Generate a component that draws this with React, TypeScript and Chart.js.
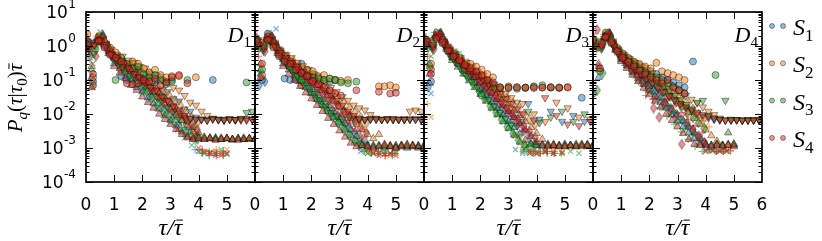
import React, { useEffect, useRef } from 'react';
import { Chart, registerables } from 'chart.js';
Chart.register(...registerables);

// ---------- shared grids & ticks ----------
const X_TICKS = [0, 1, 2, 3, 4, 5, 6];
const Y_DECADES = [1, 0, -1, -2, -3, -4];
const SERIES = ['S1', 'S2', 'S3', 'S4'];
const PANEL_NAMES = ['D1', 'D2', 'D3', 'D4'];

const TD_X = [0.1,0.3,0.5,0.7,0.9,1.1,1.3,1.5,1.7,1.9,2.1,2.3,2.5,2.7,2.9,3.1,3.3,3.5,3.7,3.9,4.1,4.3,4.5,4.7,4.9,5.1,5.3,5.5,5.7,5.9];
const TU_X = [0,0.2,0.4,0.6,0.8,1.0,1.2,1.4,1.6,1.8,2.0,2.2,2.4,2.6,2.8,3.0,3.2,3.4,3.6,3.8,4.0,4.2,4.4,4.6,4.8,5.0,5.2,5.4,5.6,5.8,6.0];
const DM_X = [0.15,0.35,0.55,0.75,0.95,1.15,1.35,1.55,1.75,1.95,2.15,2.35,2.55,2.75,2.95,3.15,3.35,3.55,3.75,3.95];
const XM_X = [0,0.25,0.5,0.75,1.0,1.25,1.5,1.75,2.0,2.25,2.5,2.75,3.0,3.25,3.5,3.75,4.0,4.2,4.4,4.6,4.8,5.0];
const PL_X = [0.125,0.375,0.625,0.875,1.125,1.375,1.625,1.875,2.125,2.375,2.625,2.875,3.125,3.375,3.625,3.875,4.125,4.375,4.625,4.875];

// ---------- D1 ----------
const D1_CIRC_X = [0.05,0.25,0.45,0.65,0.85,1.05,1.25,1.45,1.65,1.85,2.05,2.25,2.45,2.65,2.85,3.05,3.3,3.6,3.9,4.5,5.7];
const D1_CIRC_Y = [
  [1.4,0.09,1.6,1.1,0.75,0.5,0.13,0.1,0.3,0.2,0.14,0.16,0.1,0.12,0.09,0.1,null,null,null,0.1,null],
  [2.2,0.12,1.9,1.3,0.9,0.65,0.2,0.22,0.35,0.3,0.22,0.17,0.2,0.14,0.12,0.13,0.13,null,0.12,null,null],
  [1.3,0.07,1.5,1.0,0.6,0.1,0.45,0.3,0.22,0.25,0.15,0.12,0.14,0.1,0.075,0.09,null,0.1,null,null,0.085],
  [1.1,0.15,1.4,0.9,0.55,0.45,0.35,0.08,0.075,0.08,0.1,0.09,0.11,0.07,0.085,0.12,0.14,0.08,null,null,null],
];
const D1_TDOWN_Y = [
  [0.9,1.3,1.7,1.0,0.6,0.45,0.33,0.3,0.2,0.19,0.12,0.1,0.085,0.05,0.045,0.028,0.024,0.014,0.012,0.008,0.007,0.0068,0.0072,0.007,0.0065,0.007,0.0068,0.007,0.0072,0.007],
  [1.2,1.0,1.9,1.2,0.8,0.55,0.5,0.38,0.33,0.25,0.22,0.15,0.14,0.1,0.085,0.06,0.05,0.035,0.022,0.018,0.012,0.009,0.0075,0.0068,0.007,0.0072,0.0066,0.0074,0.007,0.0069],
  [1.0,0.6,1.4,0.9,0.5,0.35,0.22,0.2,0.12,0.1,0.065,0.05,0.033,0.025,0.016,0.012,0.008,0.0075,0.0072,0.0069,0.0071,0.0066,0.0073,0.0069,0.0067,0.0071,0.0068,0.0072,0.011,0.012],
  [0.8,1.1,1.5,1.1,0.55,0.4,0.25,0.23,0.15,0.12,0.085,0.06,0.05,0.032,0.025,0.017,0.013,0.009,0.0075,0.007,0.0068,0.0065,0.007,0.0067,0.0066,0.0069,0.0068,0.0066,0.0065,0.0068],
];
const D1_TUP_Y = [
  [1.1,0.12,1.6,2.0,0.7,0.3,0.22,0.13,0.1,0.06,0.045,0.03,0.02,0.014,0.009,0.0065,0.0045,0.003,0.0022,0.002,0.0019,0.0018,0.0019,0.002,0.0018,0.0019,0.0018,0.0019,0.0018,0.0019,0.0018],
  [1.5,0.25,1.3,1.7,0.9,0.45,0.35,0.22,0.18,0.12,0.09,0.065,0.045,0.03,0.02,0.014,0.009,0.0065,0.0045,0.003,0.0022,0.002,0.0019,0.0018,0.002,0.0019,0.0018,0.0019,0.002,0.0019,0.0018],
  [0.9,0.2,1.7,2.2,0.95,0.52,0.4,0.3,0.2,0.16,0.11,0.085,0.06,0.04,0.03,0.02,0.014,0.009,0.006,0.004,0.0028,0.0021,0.002,0.0019,0.0018,0.0019,0.0017,0.0019,0.0018,0.0018,0.0019],
  [1.3,0.06,1.4,1.9,0.6,0.25,0.16,0.11,0.07,0.05,0.032,0.022,0.015,0.01,0.007,0.005,0.0035,0.0025,0.002,0.0018,0.0019,0.0018,0.0019,0.0017,0.0018,0.0019,0.0018,0.0017,0.0018,0.0019,0.0018],
];
const D1_DIAM_Y = [
  [0.5,1.2,1.5,0.9,0.5,0.32,0.25,0.15,0.12,0.08,0.06,0.04,0.03,0.02,0.014,0.01,0.007,0.005,0.0035,0.0022],
  [0.9,1.0,1.8,1.1,0.65,0.5,0.35,0.28,0.2,0.16,0.11,0.09,0.06,0.05,0.035,0.025,0.018,0.012,0.008,0.0055],
  [0.7,0.8,1.6,1.0,0.45,0.3,0.2,0.14,0.09,0.065,0.045,0.03,0.02,0.013,0.009,0.006,0.004,0.003,0.0022,0.0018],
  [1.2,0.5,1.3,0.8,0.55,0.4,0.3,0.2,0.16,0.1,0.085,0.055,0.045,0.03,0.022,0.015,0.01,0.0075,0.005,0.0035],
];
const D1_XM_Y = [
  [1.8,0.3,2.6,1.0,0.4,0.25,0.13,0.09,0.05,0.035,0.02,0.013,0.008,0.005,0.003,0.0018,0.0008,0.0007,0.00075,0.0006,0.0007,0.00065],
  [2.5,0.06,2.0,1.2,0.55,0.35,0.22,0.15,0.1,0.065,0.04,0.028,0.017,0.011,0.0065,0.004,0.0025,0.00075,0.0007,0.0008,0.0007,0.0009],
  [1.5,0.5,2.2,0.9,0.35,0.2,0.11,0.07,0.04,0.025,0.015,0.009,0.0055,0.0035,0.002,0.0012,0.0008,0.00072,0.0007,0.00068,0.0009,0.0007],
  [2.0,0.08,1.8,1.1,0.5,0.3,0.18,0.12,0.075,0.05,0.03,0.02,0.012,0.0035,0.0025,0.002,0.001,0.0008,0.0007,0.0007,0.0006,0.0007],
];
const D1_PLUS_Y = [
  [1.0,1.5,1.8,0.7,0.35,0.22,0.15,0.1,0.06,0.04,0.025,0.016,0.01,0.006,0.0035,0.0009,0.0007,0.0006,0.0007,0.0008],
  [0.4,2.0,1.3,0.9,0.5,0.35,0.25,0.16,0.11,0.07,0.05,0.03,0.02,0.012,0.007,0.004,0.0008,0.0007,0.0009,0.0007],
  [1.2,1.1,1.6,0.6,0.3,0.18,0.12,0.075,0.045,0.03,0.018,0.011,0.007,0.004,0.0025,0.0015,0.0007,0.0008,0.0007,0.0006],
  [0.7,1.7,1.4,0.8,0.45,0.3,0.2,0.13,0.085,0.055,0.035,0.022,0.014,0.009,0.005,0.003,0.0009,0.0007,0.0006,0.0007],
];

// ---------- D2 ----------
const D2_CIRC_X = [0.05,0.25,0.45,0.65,0.85,1.05,1.25,1.45,1.65,1.85,2.05,2.25,2.45,2.65,2.85,3.05,3.3,3.6,4.4,4.6,4.8,5.0];
const D2_CIRC_Y = [
  [1.7,0.1,2.3,1.3,0.6,0.11,0.1,0.1,0.3,0.2,0.15,0.12,0.1,0.09,0.1,null,null,null,null,null,null,null],
  [1.3,0.14,1.9,1.1,0.7,0.5,0.35,0.25,0.07,0.2,0.18,0.13,0.14,0.11,0.1,0.095,0.1,null,0.065,0.065,0.07,0.06],
  [1.1,0.2,1.6,1.0,0.55,0.4,0.25,0.12,0.1,0.14,0.12,0.11,0.1,0.11,0.1,0.085,0.08,0.09,null,null,null,null],
  [1.4,0.3,1.5,0.9,0.5,0.35,0.3,0.2,0.16,0.13,0.09,0.075,0.06,0.05,0.04,0.035,null,0.05,0.045,null,0.04,0.042],
];
const D2_TDOWN_Y = [
  [1.4,0.8,1.8,1.0,0.6,0.42,0.3,0.2,0.16,0.1,0.08,0.055,0.04,0.028,0.02,0.013,0.01,0.0075,0.007,0.0068,0.007,0.0072,0.0069,0.007,0.0071,0.0068,0.007,0.0069,0.0072,0.007],
  [1.2,1.0,1.9,1.2,0.75,0.55,0.45,0.33,0.26,0.2,0.15,0.11,0.085,0.06,0.045,0.032,0.025,0.018,0.015,0.013,0.0095,0.0075,0.007,0.0073,0.0069,0.007,0.0072,0.012,0.013,0.012],
  [1.5,0.7,1.6,1.1,0.5,0.33,0.2,0.14,0.09,0.06,0.04,0.026,0.017,0.011,0.0085,0.0073,0.0069,0.0071,0.007,0.0068,0.0072,0.007,0.0068,0.0071,0.0069,0.007,0.0068,0.0071,0.007,0.0069],
  [1.1,0.9,1.5,1.0,0.65,0.45,0.33,0.25,0.18,0.13,0.1,0.07,0.05,0.035,0.025,0.018,0.012,0.009,0.0075,0.007,0.0071,0.007,0.0068,0.007,0.0072,0.0069,0.0068,0.007,0.0069,0.0068],
];
const D2_TUP_Y = [
  [1.4,0.15,1.5,1.9,0.7,0.3,0.2,0.13,0.09,0.06,0.04,0.027,0.018,0.012,0.008,0.0055,0.0035,0.0024,0.0016,0.0012,0.0011,0.0012,0.0011,0.001,0.0011,0.0012,0.0011,0.001,0.0011,0.0012,0.0011],
  [1.2,0.3,1.8,1.6,1.0,0.5,0.38,0.27,0.2,0.14,0.1,0.07,0.05,0.035,0.024,0.016,0.011,0.0075,0.005,0.0035,0.0025,0.0019,0.0025,0.0013,0.0012,0.0011,0.0012,0.0013,0.0012,0.0011,0.0012],
  [1.6,0.2,1.3,1.8,0.85,0.4,0.28,0.19,0.13,0.09,0.06,0.04,0.027,0.018,0.012,0.008,0.0052,0.0034,0.0022,0.0014,0.0012,0.0011,0.0012,0.0011,0.0011,0.001,0.0012,0.0011,0.0012,0.0011,0.001],
  [1.0,0.12,1.6,2.0,0.6,0.25,0.15,0.1,0.065,0.042,0.028,0.018,0.012,0.0075,0.005,0.0032,0.0021,0.0014,0.0011,0.0012,0.0011,0.001,0.0011,0.0012,0.0011,0.001,0.0011,0.0012,0.0011,0.001,0.0011],
];
const D2_DIAM_Y = [
  [0.07,0.09,1.5,1.0,0.5,0.3,0.2,0.13,0.09,0.06,0.04,0.026,0.02,0.013,0.009,0.006,0.004,0.0028,0.002,0.0014],
  [1.1,0.9,1.7,1.1,0.7,0.5,0.37,0.27,0.2,0.15,0.11,0.08,0.06,0.042,0.03,0.022,0.015,0.011,0.008,0.0055],
  [0.9,1.0,1.4,0.95,0.45,0.28,0.18,0.11,0.075,0.048,0.03,0.02,0.013,0.0085,0.0055,0.0036,0.0024,0.0016,0.0013,0.0011],
  [1.3,0.7,1.6,0.9,0.6,0.4,0.3,0.21,0.15,0.1,0.075,0.052,0.037,0.026,0.018,0.012,0.0085,0.006,0.004,0.0028],
];
const D2_XM_Y = [
  [2.0,0.8,2.5,3.2,0.45,0.25,0.14,0.09,0.05,0.03,0.018,0.011,0.007,0.0045,0.0035,0.0008,0.0007,0.00075,0.0007,0.00068,0.0007,0.0008],
  [1.8,1.2,2.0,1.3,0.55,0.35,0.24,0.16,0.11,0.075,0.05,0.033,0.022,0.014,0.009,0.0055,0.0008,0.0007,0.00078,0.0007,0.0006,0.0007],
  [1.5,0.9,1.7,1.1,0.4,0.22,0.12,0.07,0.04,0.024,0.014,0.008,0.0045,0.0027,0.0016,0.001,0.0007,0.00068,0.0007,0.0008,0.0007,0.00072],
  [2.4,1.0,2.2,1.2,0.5,0.3,0.19,0.12,0.075,0.046,0.028,0.017,0.01,0.006,0.0035,0.0021,0.0009,0.0007,0.0006,0.00065,0.0007,0.0006],
];
const D2_PLUS_Y = [
  [1.6,1.2,1.9,0.6,0.3,0.18,0.11,0.065,0.04,0.025,0.015,0.009,0.0055,0.005,0.0027,0.0008,0.0007,0.0008,0.0007,0.0006],
  [0.9,1.8,1.4,0.8,0.45,0.3,0.2,0.13,0.085,0.055,0.035,0.022,0.014,0.009,0.0055,0.0035,0.0008,0.0007,0.0006,0.0007],
  [1.3,1.0,1.6,0.55,0.28,0.16,0.09,0.05,0.03,0.017,0.01,0.006,0.0035,0.002,0.0012,0.0008,0.0007,0.0008,0.0007,0.0007],
  [0.5,1.5,1.2,0.7,0.38,0.24,0.15,0.095,0.06,0.038,0.024,0.015,0.009,0.0055,0.0032,0.002,0.0009,0.0007,0.0006,0.0007],
];

// ---------- D3 ----------
const D3_CIRC_X = [0.05,0.25,0.45,0.65,0.85,1.05,1.25,1.45,1.65,1.85,2.05,2.25,2.45,2.7,3.0,3.3,3.6,3.9,4.2,4.5,4.8,5.1,5.6];
const D3_CIRC_Y = [
  [1.2,0.09,2.0,1.4,0.8,0.5,0.35,0.25,0.19,0.15,0.12,0.09,0.075,null,null,null,null,null,null,null,null,null,0.03],
  [1.6,0.3,2.4,1.5,0.9,0.6,0.45,0.16,0.3,0.25,0.2,0.15,0.12,0.06,0.065,0.06,0.058,0.062,0.06,0.06,0.058,0.062,null],
  [1.4,0.2,1.8,1.2,0.7,0.45,0.3,0.22,0.17,0.13,0.035,0.08,0.06,0.058,0.06,0.055,0.06,0.065,0.07,0.06,0.06,null,null],
  [1.1,0.15,1.6,1.3,0.75,0.5,0.38,0.28,0.22,0.18,0.14,0.1,0.085,0.062,0.058,0.062,0.06,0.058,0.06,0.062,0.06,0.06,null],
];
const D3_TDOWN_Y = [
  [1.3,0.9,2.0,1.2,0.65,0.42,0.3,0.2,0.15,0.1,0.07,0.05,0.035,0.024,0.016,0.011,0.008,0.006,0.02,null,0.007,null,0.012,null,0.006,null,0.009,null,0.006,null],
  [1.5,1.1,2.2,1.3,0.8,0.6,0.45,0.33,0.25,0.18,0.14,0.1,0.075,0.055,0.04,0.03,0.022,0.02,null,0.01,null,0.006,null,0.022,null,0.015,null,0.008,null,0.007],
  [1.2,0.8,1.8,1.1,0.55,0.35,0.22,0.14,0.09,0.06,0.04,0.026,0.017,0.011,0.0075,0.005,0.0045,null,0.012,null,0.0055,null,0.008,null,0.012,null,0.006,null,0.01,null],
  [1.4,1.0,1.9,1.15,0.72,0.5,0.36,0.26,0.19,0.14,0.1,0.075,0.055,0.04,0.028,0.02,0.014,0.01,null,0.0065,null,0.03,null,0.009,null,0.005,null,0.0045,null,0.006],
];
const D3_TUP_Y = [
  [1.3,0.08,1.9,2.3,0.9,0.45,0.3,0.2,0.13,0.085,0.055,0.036,0.023,0.015,0.0095,0.006,0.004,0.0026,0.0017,0.0013,0.0012,0.0013,0.0012,0.0011,0.0012,0.0013,0.0012,0.0011,0.0012,0.0013,0.0012],
  [1.5,0.25,2.1,2.0,1.2,0.65,0.45,0.33,0.24,0.17,0.12,0.085,0.06,0.042,0.029,0.02,0.013,0.009,0.006,0.004,0.0027,0.0018,0.0012,0.0013,0.0012,0.0011,0.0012,0.0013,0.0012,0.0011,0.0012],
  [1.2,0.3,1.7,2.5,0.8,0.38,0.24,0.15,0.095,0.06,0.038,0.024,0.015,0.0095,0.006,0.0038,0.0024,0.0015,0.0012,0.0013,0.0012,0.0011,0.0013,0.0012,0.0011,0.0012,0.0011,0.0012,0.0013,0.0012,0.0011],
  [1.4,0.15,2.0,2.2,1.0,0.55,0.37,0.26,0.18,0.12,0.085,0.058,0.04,0.027,0.018,0.012,0.008,0.0052,0.0034,0.0022,0.0015,0.0012,0.0011,0.0012,0.0011,0.0011,0.0012,0.0011,0.0011,0.0012,0.0011],
];
const D3_DIAM_Y = [
  [0.06,1.0,2.0,1.3,0.65,0.4,0.27,0.18,0.12,0.08,0.055,0.037,0.025,0.016,0.011,0.0075,0.005,0.0033,0.0022,0.0014],
  [1.2,1.3,2.2,1.4,0.85,0.6,0.42,0.3,0.22,0.16,0.12,0.085,0.06,0.043,0.03,0.021,0.015,0.01,0.007,0.005],
  [0.9,1.1,1.8,1.2,0.55,0.33,0.2,0.12,0.075,0.046,0.028,0.017,0.011,0.0068,0.0042,0.0027,0.0017,0.0012,0.0011,0.0012],
  [1.4,0.8,2.1,1.25,0.75,0.5,0.34,0.23,0.16,0.11,0.075,0.05,0.034,0.023,0.015,0.01,0.0068,0.0045,0.003,0.002],
];
const D3_XM_X = [0,0.25,0.5,0.75,1.0,1.25,1.5,1.75,2.0,2.25,2.5,2.75,3.0,3.25,3.5,3.75,4.0,4.3,4.6,4.9,5.2,5.5];
const D3_XM_Y = [
  [1.6,0.04,2.8,1.3,0.5,0.28,0.16,0.09,0.05,0.03,0.018,0.01,0.006,0.0009,0.0007,0.0008,0.0007,0.0008,0.0007,null,null,null],
  [1.8,0.008,2.0,1.4,0.65,0.4,0.26,0.17,0.11,0.07,0.045,0.028,0.016,0.0022,0.0009,0.0008,0.0007,0.0009,0.0008,0.0007,null,null],
  [1.4,0.5,1.9,1.2,0.45,0.6,0.15,0.085,0.048,0.027,0.015,0.0085,0.0048,0.0027,0.0008,0.0007,0.0008,0.00075,0.0007,0.0007,0.0008,0.0007],
  [2.0,0.2,2.3,1.1,0.55,0.33,0.2,0.12,0.075,0.045,0.028,0.017,0.01,0.006,0.0035,0.0007,0.00068,0.0008,0.0007,0.00075,null,null],
];
const D3_PLUS_Y = [
  [0.3,2.5,1.9,0.7,0.36,0.2,0.12,0.07,0.04,0.024,0.014,0.008,0.0045,0.0025,0.0008,0.0007,0.0008,0.0007,null,null],
  [0.02,2.0,1.6,0.9,0.5,0.32,0.21,0.14,0.09,0.058,0.037,0.023,0.014,0.0022,0.0018,0.0008,0.0007,0.0007,0.0008,null],
  [0.9,1.6,1.4,0.6,0.65,0.17,0.1,0.058,0.033,0.019,0.011,0.0063,0.0036,0.002,0.0009,0.0007,0.0007,0.0008,0.0007,0.0007],
  [0.5,1.8,1.7,0.8,0.42,0.26,0.16,0.1,0.062,0.038,0.023,0.014,0.0085,0.005,0.003,0.0008,0.0007,0.0008,0.0007,null],
];

// ---------- D4 ----------
const D4_CIRC_X = [0,0.25,0.45,0.65,0.85,1.05,1.25,1.45,1.65,1.85,2.05,2.25,2.45,2.65,2.85,3.05,3.25,3.55,4.35];
const D4_CIRC_Y = [
  [0.04,0.9,2.2,1.4,0.8,0.55,0.42,0.33,0.27,0.22,0.18,0.15,0.12,0.1,0.085,0.07,0.06,0.35,null],
  [1.6,1.3,2.5,1.5,0.9,0.6,0.45,0.35,0.3,0.25,0.22,0.32,0.18,0.16,0.14,0.12,0.1,null,null],
  [1.3,0.18,2.0,1.2,0.75,0.5,0.36,0.28,0.21,0.17,0.13,0.12,0.1,0.08,0.065,0.05,0.04,null,0.14],
  [1.5,0.22,1.8,1.3,0.7,0.45,0.34,0.25,0.19,0.15,0.12,0.1,0.08,0.1,0.06,0.05,0.04,null,null],
];
const D4_TDOWN_Y = [
  [1.1,0.9,1.9,1.1,0.6,0.4,0.28,0.2,0.14,0.1,0.075,0.055,0.042,0.032,0.025,0.019,0.015,0.012,0.01,0.0085,0.0075,0.0068,0.0066,0.0065,0.0068,0.0066,0.0065,0.0067,0.0066,0.0065],
  [1.3,1.1,2.1,1.3,0.8,0.55,0.42,0.32,0.25,0.2,0.16,0.12,0.095,0.075,0.058,0.045,0.035,0.027,0.021,0.016,0.012,0.0095,0.0075,0.0067,0.0066,0.0068,0.0065,0.0066,0.0068,0.0066],
  [1.2,0.8,1.8,1.15,0.7,0.46,0.34,0.26,0.2,0.15,0.11,0.085,0.063,0.047,0.035,0.026,0.019,0.014,0.022,0.025,0.009,0.0075,0.007,0.025,0.007,0.0068,0.0066,0.0067,0.0065,0.0066],
  [1.0,1.0,2.0,1.2,0.6,0.4,0.28,0.2,0.15,0.11,0.08,0.06,0.045,0.034,0.026,0.02,0.016,0.013,0.011,0.0095,0.0085,0.0075,0.0068,0.0066,0.0065,0.0067,0.0066,0.0065,0.0066,0.0067],
];
const D4_TUP_X = [0,0.2,0.4,0.6,0.8,1.0,1.2,1.4,1.6,1.8,2.0,2.2,2.4,2.6,2.8,3.0,3.2,3.4,3.6,3.8,4.0,4.2,4.4,4.6,4.8,5.0];
const D4_TUP_Y = [
  [1.1,0.12,1.7,2.4,0.8,0.4,0.26,0.17,0.11,0.075,0.05,0.033,0.022,0.015,0.0095,0.0062,0.0042,0.0028,0.0019,0.0014,0.0013,0.0012,0.0013,0.0012,0.0013,0.0012],
  [1.4,0.3,1.9,2.0,1.05,0.55,0.4,0.3,0.22,0.16,0.12,0.085,0.062,0.045,0.032,0.023,0.016,0.011,0.0075,0.005,0.0034,0.0023,0.0016,0.0012,0.0012,0.0013],
  [1.2,0.2,1.6,2.3,0.9,0.45,0.3,0.2,0.14,0.095,0.065,0.045,0.03,0.02,0.014,0.0095,0.0063,0.0042,0.0028,0.0019,0.0013,0.0012,0.0013,0.0012,0.0028,0.0013],
  [1.0,0.25,1.8,2.1,0.75,0.35,0.22,0.14,0.09,0.058,0.037,0.024,0.016,0.01,0.0065,0.0042,0.0027,0.0018,0.0013,0.0012,0.0012,0.0011,0.0012,0.0011,0.0012,0.0011],
];
const D4_DIAM_Y = [
  [1.0,1.3,2.0,1.1,0.55,0.36,0.24,0.16,0.11,0.075,0.05,0.034,0.023,0.015,0.01,0.0068,0.0045,0.003,0.002,0.0014],
  [1.3,1.1,2.2,1.2,0.75,0.52,0.38,0.28,0.21,0.16,0.12,0.09,0.068,0.05,0.037,0.027,0.02,0.014,0.01,0.0075],
  [0.05,0.16,1.8,1.0,0.62,0.42,0.3,0.22,0.16,0.12,0.085,0.062,0.045,0.032,0.023,0.016,0.011,0.0078,0.0055,0.0038],
  [3.0,1.2,2.4,1.05,0.5,0.32,0.2,0.13,0.085,0.055,0.015,0.008,0.02,0.013,0.0085,0.0013,0.0055,0.0035,0.0023,0.0015],
];
const D4_XM_X = [0,0.25,0.5,0.75,1.0,1.25,1.5,1.75,2.0,2.25,2.5,2.75,3.0,3.25,3.5,3.75,4.0,4.25,4.5,4.75];
const D4_XM_Y = [
  [1.6,0.9,2.5,1.4,0.5,0.28,0.16,0.1,0.06,0.038,0.024,0.015,0.0095,0.006,0.0038,0.0022,0.0009,0.0008,0.00085,0.0008],
  [1.9,1.2,2.2,1.3,0.6,0.38,0.25,0.17,0.12,0.08,0.055,0.038,0.026,0.017,0.011,0.007,0.0045,0.00085,0.0008,0.0009],
  [1.4,0.8,2.7,1.2,0.45,0.24,0.13,0.075,0.042,0.025,0.015,0.009,0.0055,0.0033,0.002,0.0012,0.0008,0.0009,0.0008,0.00085],
  [2.1,1.0,2.0,1.1,0.52,0.3,0.2,0.13,0.09,0.03,0.025,0.03,0.018,0.0095,0.004,0.0019,0.0008,0.00085,0.0008,0.0008],
];
const D4_PLUS_Y = [
  [1.2,1.6,1.9,0.65,0.34,0.2,0.12,0.075,0.046,0.029,0.018,0.011,0.007,0.0045,0.0028,0.0018,0.0009,0.0008,0.0009,null],
  [0.8,2.2,1.5,0.85,0.5,0.33,0.23,0.16,0.11,0.075,0.05,0.034,0.023,0.015,0.01,0.0065,0.0042,0.0009,0.0008,0.0008],
  [1.5,1.3,1.7,0.55,0.27,0.15,0.085,0.048,0.027,0.015,0.0085,0.005,0.003,0.0018,0.0011,0.0008,0.0009,0.0008,0.0008,null],
  [0.9,1.9,1.3,0.75,0.4,0.25,0.16,0.035,0.028,0.045,0.028,0.018,0.011,0.007,0.0045,0.0028,0.0009,0.0008,0.0008,0.00085],
];

// ---------- assembly tables ----------
type Kind = 'circ' | 'tdown' | 'tup' | 'diam' | 'xm' | 'plus';
type SetDef = { kind: Kind; x: number[]; y: (number | null)[][] };
const PANELS: SetDef[][] = [
  [
    { kind: 'plus', x: PL_X, y: D1_PLUS_Y },
    { kind: 'xm', x: XM_X, y: D1_XM_Y },
    { kind: 'tup', x: TU_X, y: D1_TUP_Y },
    { kind: 'diam', x: DM_X, y: D1_DIAM_Y },
    { kind: 'tdown', x: TD_X, y: D1_TDOWN_Y },
    { kind: 'circ', x: D1_CIRC_X, y: D1_CIRC_Y },
  ],
  [
    { kind: 'plus', x: PL_X, y: D2_PLUS_Y },
    { kind: 'xm', x: XM_X, y: D2_XM_Y },
    { kind: 'tup', x: TU_X, y: D2_TUP_Y },
    { kind: 'diam', x: DM_X, y: D2_DIAM_Y },
    { kind: 'tdown', x: TD_X, y: D2_TDOWN_Y },
    { kind: 'circ', x: D2_CIRC_X, y: D2_CIRC_Y },
  ],
  [
    { kind: 'plus', x: PL_X, y: D3_PLUS_Y },
    { kind: 'xm', x: D3_XM_X, y: D3_XM_Y },
    { kind: 'tup', x: TU_X, y: D3_TUP_Y },
    { kind: 'diam', x: DM_X, y: D3_DIAM_Y },
    { kind: 'tdown', x: TD_X, y: D3_TDOWN_Y },
    { kind: 'circ', x: D3_CIRC_X, y: D3_CIRC_Y },
  ],
  [
    { kind: 'plus', x: PL_X, y: D4_PLUS_Y },
    { kind: 'xm', x: D4_XM_X, y: D4_XM_Y },
    { kind: 'tup', x: D4_TUP_X, y: D4_TUP_Y },
    { kind: 'diam', x: DM_X, y: D4_DIAM_Y },
    { kind: 'tdown', x: TD_X, y: D4_TDOWN_Y },
    { kind: 'circ', x: D4_CIRC_X, y: D4_CIRC_Y },
  ],
];

// ---------- style ----------
const W = 822;
const H = 241;
const EDGES = [86, 255, 424, 593, 762];
const PLOT_TOP = 12;
const X_AXIS_H = 59;
const COLORS = ['31,119,180', '255,127,14', '44,160,44', '214,39,40'];
const EDGE = 'rgba(0,0,0,0.5)';
const MATH_FONT = '"Liberation Serif", "DejaVu Serif", serif';
const TICK_FONT = '"DejaVu Sans", sans-serif';

function thinDiamond(col: string): HTMLCanvasElement {
  const c = document.createElement('canvas');
  c.width = 8;
  c.height = 11;
  const g = c.getContext('2d')!;
  g.beginPath();
  g.moveTo(4, 0.6);
  g.lineTo(7.2, 5.5);
  g.lineTo(4, 10.4);
  g.lineTo(0.8, 5.5);
  g.closePath();
  g.fillStyle = `rgba(${col},0.5)`;
  g.fill();
  g.strokeStyle = EDGE;
  g.lineWidth = 0.8;
  g.stroke();
  return c;
}

function makeDataset(kind: Kind, xs: number[], ys: (number | null)[], s: number, order: number) {
  const col = COLORS[s];
  const data = xs
    .map((x, i) => ({ x, y: ys[i] }))
    .filter((p) => p.y != null && p.x != null) as { x: number; y: number }[];
  const base: any = {
    label: `${SERIES[s]}-${kind}`,
    data,
    showLine: false,
    clip: 0,
    order,
    pointBackgroundColor: `rgba(${col},0.5)`,
    pointBorderColor: EDGE,
    pointBorderWidth: 0.8,
    pointRotation: 0,
  };
  switch (kind) {
    case 'circ':
      return { ...base, pointStyle: 'circle', pointRadius: 3.5 };
    case 'tdown':
      return { ...base, pointStyle: 'triangle', pointRotation: 180, pointRadius: 4.3 };
    case 'tup':
      return { ...base, pointStyle: 'triangle', pointRadius: 4.3 };
    case 'diam':
      return { ...base, pointStyle: thinDiamond(col), pointRadius: 4 };
    case 'plus':
      return { ...base, pointStyle: 'cross', pointRadius: 3.6, pointBorderColor: `rgba(${col},0.6)`, pointBorderWidth: 1.2 };
    default:
      return { ...base, pointStyle: 'crossRot', pointRadius: 3.6, pointBorderColor: `rgba(${col},0.6)`, pointBorderWidth: 1.2 };
  }
}

type Seg = { t: string; sub?: boolean; sup?: boolean; up?: boolean; bar?: boolean };
function drawMath(ctx: CanvasRenderingContext2D, segs: Seg[], x: number, y: number, size: number, align: 'left' | 'center' | 'right') {
  const small = Math.round(size * 0.7);
  const fontOf = (s: Seg) => `${s.up ? '' : 'italic '}${s.sub || s.sup ? small : size}px ${MATH_FONT}`;
  const widths = segs.map((s) => {
    ctx.font = fontOf(s);
    return ctx.measureText(s.t).width;
  });
  const total = widths.reduce((a, b) => a + b, 0);
  let cx = align === 'left' ? x : align === 'center' ? x - total / 2 : x - total;
  ctx.textAlign = 'left';
  ctx.textBaseline = 'alphabetic';
  segs.forEach((s, i) => {
    ctx.font = fontOf(s);
    const dy = s.sub ? size * 0.24 : s.sup ? -size * 0.42 : 0;
    ctx.fillText(s.t, cx, y + dy);
    if (s.bar) {
      ctx.save();
      ctx.lineWidth = 1;
      ctx.strokeStyle = '#000';
      ctx.beginPath();
      ctx.moveTo(cx + widths[i] * 0.3, y - size * 0.62);
      ctx.lineTo(cx + widths[i] * 1.05, y - size * 0.62);
      ctx.stroke();
      ctx.restore();
    }
    cx += widths[i];
  });
}

function framePlugin(p: number) {
  return {
    id: 'frame' + p,
    afterDraw(chart: any) {
      const { ctx, chartArea } = chart;
      const { left, right, top, bottom } = chartArea;
      const xs = chart.scales.x;
      const ys = chart.scales.y;
      ctx.save();
      ctx.strokeStyle = '#000';
      ctx.fillStyle = '#000';
      ctx.lineWidth = 1;
      ctx.beginPath();
      for (const v of X_TICKS) {
        if (v === 0 || v === 6) continue;
        const px = Math.round(xs.getPixelForValue(v)) + 0.5;
        ctx.moveTo(px, bottom);
        ctx.lineTo(px, bottom - 7);
        ctx.moveTo(px, top);
        ctx.lineTo(px, top + 7);
      }
      for (const d of Y_DECADES) {
        const py = Math.round(ys.getPixelForValue(Math.pow(10, d))) + 0.5;
        ctx.moveTo(left, py);
        ctx.lineTo(left + 7, py);
        ctx.moveTo(right, py);
        ctx.lineTo(right - 7, py);
        if (d < 1) {
          for (let m = 2; m <= 9; m++) {
            const pm = Math.round(ys.getPixelForValue(m * Math.pow(10, d))) + 0.5;
            ctx.moveTo(left, pm);
            ctx.lineTo(left + 3.5, pm);
            ctx.moveTo(right, pm);
            ctx.lineTo(right - 3.5, pm);
          }
        }
      }
      ctx.stroke();
      ctx.lineWidth = 1.7;
      ctx.strokeRect(left, top, right - left, bottom - top);

      // panel label D_i
      drawMath(ctx, [{ t: 'D' }, { t: PANEL_NAMES[p].slice(1), sub: true, up: true }], right - 4, top + 30, 22, 'right');

      // x title under each panel
      drawMath(ctx, [{ t: 'τ' }, { t: '/' }, { t: 'τ', bar: true }], (left + right) / 2, 235, 24, 'center');

      if (p === 0) {
        for (const d of Y_DECADES) {
          const py = ys.getPixelForValue(Math.pow(10, d));
          const exp = String(d);
          ctx.font = `12px ${TICK_FONT}`;
          const ew = ctx.measureText(exp).width;
          const xr = left - 10;
          ctx.textAlign = 'left';
          ctx.textBaseline = 'alphabetic';
          ctx.fillText(exp, xr - ew, py - 4);
          ctx.font = `17px ${TICK_FONT}`;
          ctx.textAlign = 'right';
          ctx.fillText('10', xr - ew - 0.5, py + 5.5);
        }
        ctx.save();
        ctx.translate(22, (top + bottom) / 2 + 1);
        ctx.rotate(-Math.PI / 2);
        drawMath(
          ctx,
          [
            { t: 'P' },
            { t: 'q', sub: true },
            { t: '(', up: true },
            { t: 'τ' },
            { t: '|', up: true },
            { t: 'τ' },
            { t: '0', sub: true, up: true },
            { t: ')', up: true },
            { t: 'τ', bar: true },
          ],
          0,
          0,
          21,
          'center'
        );
        ctx.restore();
      }

      if (p === 3) {
        SERIES.forEach((name, k) => {
          const cy = top + 14 + k * 37.3;
          for (const dx of [10, 21]) {
            ctx.beginPath();
            ctx.arc(right + dx, cy, 2.5, 0, Math.PI * 2);
            ctx.fillStyle = `rgba(${COLORS[k]},0.5)`;
            ctx.fill();
            ctx.strokeStyle = EDGE;
            ctx.lineWidth = 0.8;
            ctx.stroke();
          }
          ctx.fillStyle = '#000';
          drawMath(ctx, [{ t: name[0] }, { t: name.slice(1), sub: true, up: true }], right + 31, cy + 9, 24, 'left');
        });
      }
      ctx.restore();
    },
  };
}

function makeConfig(p: number): any {
  const datasets: any[] = [];
  let order = 0;
  for (let s = 0; s < 4; s++) {
    for (const def of PANELS[p]) {
      datasets.push(makeDataset(def.kind, def.x, def.y[s], s, -order));
      order++;
    }
  }
  return {
    type: 'scatter',
    data: { datasets },
    options: {
      animation: false,
      responsive: false,
      devicePixelRatio: 1,
      events: [],
      layout: { padding: { left: EDGES[p], right: W - EDGES[p + 1], top: PLOT_TOP, bottom: 0 } },
      plugins: { legend: { display: false }, tooltip: { enabled: false } },
      scales: {
        x: {
          type: 'linear',
          min: 0,
          max: 6,
          grid: { display: false },
          border: { display: false },
          afterFit: (scale: any) => {
            scale.height = X_AXIS_H;
          },
          afterBuildTicks: (scale: any) => {
            scale.ticks = X_TICKS.map((v) => ({ value: v }));
          },
          ticks: {
            autoSkip: false,
            maxRotation: 0,
            padding: 5,
            color: '#000',
            font: { family: TICK_FONT, size: 17 },
            callback: (v: any) => (p < 3 && Number(v) === 6 ? '' : String(v)),
          },
        },
        y: { type: 'logarithmic', min: 1e-4, max: 10, display: false },
      },
    },
    plugins: [framePlugin(p)],
  };
}

export default function App() {
  const canvases = useRef<(HTMLCanvasElement | null)[]>([]);
  useEffect(() => {
    const charts = [0, 1, 2, 3].map((p) => new Chart(canvases.current[p] as HTMLCanvasElement, makeConfig(p)));
    return () => charts.forEach((c) => c.destroy());
  }, []);
  return (
    <div style={{ position: 'fixed', left: 0, top: 0, width: W, height: H, background: '#fff', overflow: 'hidden' }}>
      {[0, 1, 2, 3].map((p) => (
        <canvas
          key={p}
          ref={(el) => {
            canvases.current[p] = el;
          }}
          width={W}
          height={H}
          style={{ position: 'absolute', left: 0, top: 0, width: W, height: H }}
        />
      ))}
    </div>
  );
}
